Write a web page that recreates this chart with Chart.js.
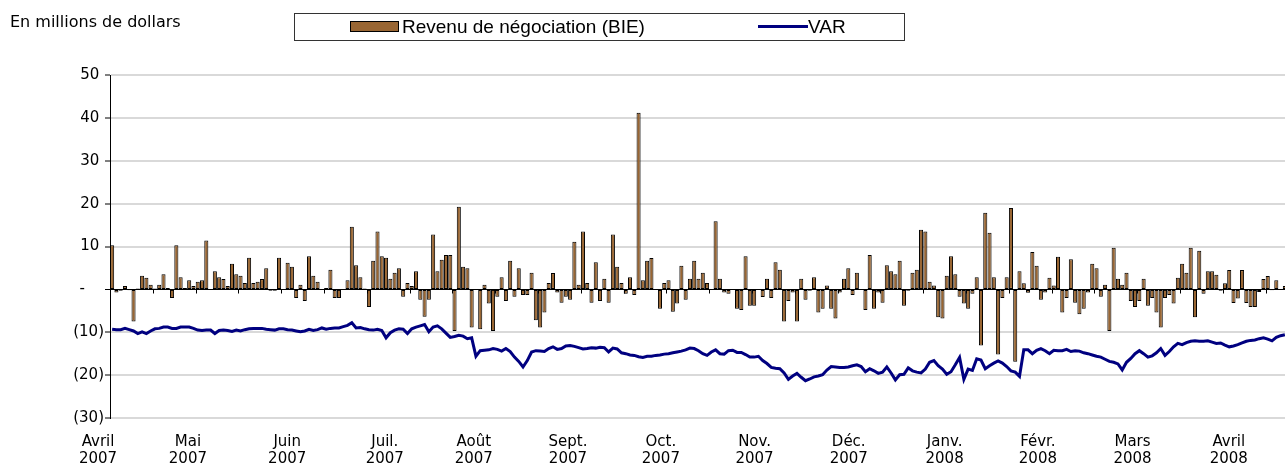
<!DOCTYPE html>
<html><head><meta charset="utf-8">
<script src="https://cdn.jsdelivr.net/npm/chart.js@4.4.1/dist/chart.umd.min.js"></script>
<style>
html,body{margin:0;padding:0;background:#fff;overflow:hidden;width:1285px;height:468px}
#wrap{position:absolute;left:0;top:0;width:1290px;height:468px}
#unit{position:absolute;left:10px;top:12px;font:16px 'DejaVu Sans',sans-serif;color:#000;white-space:nowrap;line-height:19px}
#legend{position:absolute;left:294px;top:13px;width:609px;height:26px;border:1px solid #333;font:19px 'Liberation Sans',Arial,sans-serif;color:#000}
.li{position:absolute;top:0;height:26px;line-height:26px;white-space:nowrap}
.sw{position:absolute;top:7px;width:47px;height:9px;border:1px solid #000}
.ln{position:absolute;top:11px;width:50px;height:3px}
</style></head>
<body>
<div id="wrap"><canvas id="c" width="1290" height="468"></canvas></div>
<div id="unit">En millions de dollars</div>
<div id="legend"></div>
<script>
// ---- data ----
const revenue = [
10.3,-0.7,-0.3,0.8,-0.2,-7.5,0.2,3.2,2.7,1.1,
0.2,1.1,3.5,0.3,-2.0,10.3,2.8,0.3,2.1,0.8,
1.8,2.1,11.4,0,4.2,2.8,2.4,0.8,6.0,3.5,
3.2,1.5,7.4,1.5,1.8,2.4,4.9,-0.3,-0.3,7.4,
0,6.2,5.3,-2.0,1.1,-2.7,7.7,3.2,1.8,0,
0.3,4.6,-2.0,-2.0,0,2.1,14.6,5.6,2.8,0.2,
-4.1,6.7,13.5,7.7,7.4,2.5,3.9,4.9,-1.7,1.5,
0.8,4.2,-2.4,-6.4,-2.4,12.8,4.2,6.9,8.0,8.0,
-9.7,19.3,5.3,4.9,-8.9,0,-9.3,1.1,-3.3,-9.7,
-1.7,2.8,-2.7,6.7,-1.7,4.9,-1.3,-1.3,3.9,-7.2,
-8.9,-5.4,1.5,3.8,-0.7,-3.1,-1.7,-2.4,11.1,1.1,
13.5,1.5,-3.1,6.3,-2.7,2.5,-3.1,12.8,5.3,1.5,
-1.0,2.8,-1.3,41.2,2.1,6.7,7.3,0,-4.5,1.5,
2.1,-5.2,-3.3,5.5,-2.4,2.5,6.7,2.5,3.9,1.5,
0,15.9,2.5,-0.7,-1.0,0,-4.5,-4.8,7.7,-3.8,
-3.8,0,-1.8,2.5,-2.0,6.3,4.6,-7.5,-2.7,-0.7,
-7.5,2.5,-2.4,-0.3,2.8,-5.4,-4.5,0.9,-4.5,-6.8,
-0.7,2.5,4.9,-1.3,3.9,0,-4.8,8.0,-4.5,-0.7,
-3.1,5.6,4.2,3.5,6.7,-3.8,-0.3,3.9,4.6,13.9,
13.5,1.8,0.9,-6.5,-6.8,3.2,7.7,3.5,-1.7,-3.3,
-4.5,-1.0,2.8,-13.1,17.9,13.2,2.8,-15.2,-2.0,2.8,
19.0,-16.9,4.2,1.4,-0.8,8.7,5.5,-2.4,-0.7,2.7,
0.9,7.6,-5.4,-2.0,7.0,-3.1,-5.8,-4.5,-0.7,6.0,
4.9,-1.7,1.1,-9.7,9.7,2.5,1.1,3.9,-2.7,-4.1,
-2.7,2.5,-3.8,-2.0,-5.4,-8.9,-2.0,-1.3,-3.3,2.7,
6.0,3.9,9.7,-6.5,9.0,-1.0,4.2,4.2,3.4,-0.3,
1.4,4.5,-3.2,-2.1,4.5,-3.2,-4.1,-4.1,-0.6,2.4,
3.1,-0.2,2.1,0,0.8
];
const varValues = [
-9.3,-9.4,-9.4,-9.1,-9.4,-9.7,-10.3,-9.9,-10.3,-9.7,
-9.2,-9.1,-8.8,-8.8,-9.1,-9.1,-8.8,-8.8,-8.8,-9.1,
-9.5,-9.6,-9.5,-9.5,-10.3,-9.6,-9.5,-9.6,-9.8,-9.5,
-9.7,-9.4,-9.2,-9.1,-9.1,-9.1,-9.3,-9.4,-9.5,-9.2,
-9.2,-9.4,-9.5,-9.7,-9.9,-9.7,-9.3,-9.6,-9.4,-9.0,
-9.3,-9.1,-9.0,-9.0,-8.7,-8.4,-7.8,-9.0,-8.9,-9.2,
-9.4,-9.5,-9.3,-9.6,-11.3,-10.1,-9.5,-9.2,-9.3,-10.3,
-9.2,-8.8,-8.5,-8.2,-9.9,-8.8,-8.5,-9.2,-10.2,-11.2,
-11.0,-10.7,-10.9,-11.5,-11.3,-15.6,-14.3,-14.2,-14.1,-13.8,
-14.0,-14.4,-13.8,-14.5,-15.8,-16.8,-18.1,-16.6,-14.6,-14.3,
-14.4,-14.5,-13.8,-13.4,-14.0,-13.8,-13.2,-13.1,-13.3,-13.6,
-13.9,-13.8,-13.6,-13.7,-13.5,-13.6,-14.6,-13.7,-13.9,-14.8,
-15.0,-15.3,-15.4,-15.7,-15.9,-15.6,-15.6,-15.4,-15.3,-15.1,
-15.0,-14.8,-14.6,-14.4,-14.1,-13.7,-13.8,-14.3,-15.0,-15.4,
-14.6,-14.1,-15.0,-15.1,-14.3,-14.2,-14.7,-14.7,-15.2,-15.8,
-15.8,-15.6,-16.6,-17.3,-18.2,-18.4,-18.5,-19.5,-21.0,-20.2,
-19.6,-20.5,-21.3,-20.9,-20.4,-20.2,-19.9,-18.8,-18.0,-18.1,
-18.2,-18.2,-18.1,-17.8,-17.6,-18.0,-19.2,-18.5,-19.0,-19.6,
-19.3,-18.1,-19.5,-21.1,-19.9,-19.8,-18.3,-19.0,-19.3,-19.5,
-18.6,-17.0,-16.6,-17.8,-18.6,-19.8,-19.2,-17.6,-15.9,-21.0,
-18.6,-18.9,-16.2,-16.5,-18.5,-17.8,-17.2,-16.7,-17.2,-18.0,
-19.0,-19.3,-20.3,-14.1,-14.1,-15.0,-14.2,-13.8,-14.3,-15.0,
-14.2,-14.3,-14.3,-14.0,-14.5,-14.3,-14.4,-14.8,-15.0,-15.3,
-15.6,-15.8,-16.3,-16.8,-17.0,-17.4,-18.8,-17.0,-16.1,-15.0,
-14.3,-15.0,-15.8,-15.5,-14.8,-13.8,-15.4,-14.5,-13.4,-12.6,
-12.9,-12.4,-12.1,-12.0,-12.1,-12.1,-12.0,-12.3,-12.6,-12.5,
-13.0,-13.4,-13.2,-12.9,-12.5,-12.1,-11.9,-11.8,-11.5,-11.3,
-11.6,-12.0,-11.2,-10.8,-10.6
];
const monthNames = ['Avril','Mai','Juin','Juil.','Août','Sept.','Oct.','Nov.','Déc.','Janv.','Févr.','Mars','Avril'];
const monthYears = ['2007','2007','2007','2007','2007','2007','2007','2007','2007','2008','2008','2008','2008'];
// category position (in trading-day index units) under which each month label sits
const monthLabelAt = [-3.3,17.7,40.9,63.7,84.5,106.5,128.2,150.1,172.1,194.5,216.3,238.4,260.9];
const yTicks = [50,40,30,20,10,0,-10,-20,-30];
const seriesNames = ['Revenu de négociation (BIE)','VAR'];

// ---- chart ----
const N = revenue.length;
const dayLabels = revenue.map((_, i) => String(i));
const BROWN = '#996633', NAVY = '#000080';

const zeroAxis = {
  id: 'zeroAxis',
  afterDatasetsDraw(chart) {
    const {ctx, chartArea} = chart;
    const y = chart.scales.y, xm = chart.scales.xm;
    const y0 = Math.round(y.getPixelForValue(0)) + 0.5;
    ctx.save();
    ctx.strokeStyle = '#000';
    ctx.lineWidth = 1;
    ctx.beginPath();
    ctx.moveTo(chartArea.left, y0);
    ctx.lineTo(chartArea.right, y0);
    for (let k = 10; k < N; k += 10) {
      const px = Math.round(xm.getPixelForValue(k - 0.5)) + 0.5;
      ctx.moveTo(px, y0);
      ctx.lineTo(px, y0 + 4);
    }
    ctx.stroke();
    ctx.restore();
  }
};

const chart = new Chart(document.getElementById('c'), {
  data: {
    labels: dayLabels,
    datasets: [
      {type: 'line', label: seriesNames[1], data: varValues, borderColor: NAVY, backgroundColor: NAVY,
       borderWidth: 3, pointRadius: 0, tension: 0, order: 0, xAxisID: 'x', yAxisID: 'y'},
      {type: 'bar', label: seriesNames[0], data: revenue, backgroundColor: BROWN, borderColor: '#000',
       borderWidth: 1, borderSkipped: false, categoryPercentage: 1, barPercentage: 0.95, order: 1,
       xAxisID: 'x', yAxisID: 'y'}
    ]
  },
  options: {
    responsive: false,
    animation: false,
    layout: {padding: {left: 0, right: 3, top: 75, bottom: 0}},
    plugins: {legend: {display: false}, tooltip: {enabled: false}},
    scales: {
      x: {type: 'category', display: false, offset: true},
      xm: {
        type: 'linear', position: 'bottom', min: -0.5, max: N - 0.5,
        grid: {display: false, drawTicks: false}, border: {display: false},
        afterBuildTicks(scale) { scale.ticks = monthLabelAt.map(v => ({value: v})); },
        afterFit(scale) { scale.height = 50; },
        ticks: {
          autoSkip: false, maxRotation: 0, minRotation: 0, padding: 15, color: '#000',
          font: {family: "'DejaVu Sans', sans-serif", size: 15, lineHeight: 1.15},
          callback: (v, i) => [monthNames[i], monthYears[i]]
        }
      },
      y: {
        type: 'linear', min: -30, max: 50,
        afterBuildTicks(scale) { scale.ticks = yTicks.map(v => ({value: v})); },
        afterFit(scale) { scale.width = 110; },
        border: {display: true, color: '#000', width: 1},
        grid: {
          color: ctx => ctx.tick && ctx.tick.value === 0 ? '#000' : '#d9d9d9',
          lineWidth: ctx => ctx.tick && ctx.tick.value === 0 ? 1 : 2,
          drawTicks: true, tickLength: 5, tickColor: '#000', tickWidth: 1
        },
        ticks: {
          padding: 1, color: '#000',
          font: {family: "'DejaVu Sans', sans-serif", size: 15},
          callback: v => v > 0 ? String(v) + ' ' : v < 0 ? '(' + (-v) + ')' : '-    '
        }
      }
    }
  },
  plugins: [zeroAxis]
});

// HTML legend built from datasets
const leg = document.getElementById('legend');
const barDs = chart.data.datasets.find(d => d.type === 'bar');
const lineDs = chart.data.datasets.find(d => d.type === 'line');
leg.innerHTML =
  '<div class="sw" style="left:55px;background:' + barDs.backgroundColor + '"></div>' +
  '<div class="li" style="left:107px">' + barDs.label + '</div>' +
  '<div class="ln" style="left:463px;background:' + lineDs.borderColor + '"></div>' +
  '<div class="li" style="left:513px">' + lineDs.label + '</div>';
</script>
</body></html>
